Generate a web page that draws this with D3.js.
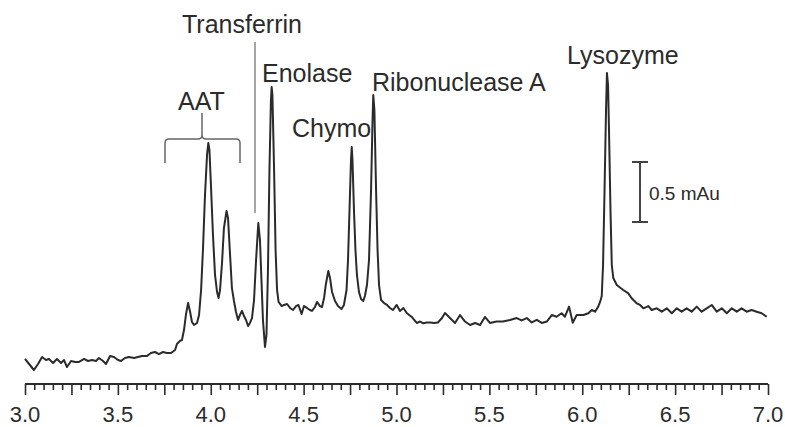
<!DOCTYPE html>
<html>
<head>
<meta charset="utf-8">
<script src="https://cdn.jsdelivr.net/npm/d3@7"></script>
<style>
  html, body { margin: 0; padding: 0; background: #fff; }
  svg { display: block; font-family: "Liberation Sans", Arial, sans-serif; }
</style>
</head>
<body>
<svg id="chart" width="785" height="427"></svg>
<script>
// Migration time (min) of each sample point of the electropherogram
const times = [
  3.000, 3.022, 3.048, 3.070, 3.092, 3.113, 3.129, 3.151, 3.172, 3.194,
  3.210, 3.226, 3.248, 3.269, 3.291, 3.318, 3.339, 3.361, 3.382, 3.398,
  3.420, 3.436, 3.458, 3.479, 3.501, 3.517, 3.538, 3.560, 3.587, 3.608,
  3.630, 3.657, 3.678, 3.700, 3.721, 3.743, 3.764, 3.786, 3.808, 3.818,
  3.834, 3.845, 3.856, 3.867, 3.878, 3.888, 3.899, 3.910, 3.926, 3.937,
  3.948, 3.958, 3.969, 3.980, 3.987, 3.993, 4.001, 4.012, 4.023, 4.034,
  4.042, 4.050, 4.061, 4.071, 4.085, 4.093, 4.104, 4.114, 4.125, 4.136,
  4.147, 4.157, 4.168, 4.179, 4.190, 4.201, 4.211, 4.222, 4.233, 4.244,
  4.256, 4.265, 4.273, 4.281, 4.292, 4.300, 4.308, 4.316, 4.324, 4.328,
  4.332, 4.341, 4.349, 4.357, 4.365, 4.382, 4.394, 4.411, 4.427, 4.443,
  4.459, 4.472, 4.489, 4.502, 4.518, 4.534, 4.545, 4.561, 4.572, 4.588,
  4.599, 4.610, 4.620, 4.633, 4.642, 4.653, 4.669, 4.685, 4.704, 4.717,
  4.731, 4.739, 4.747, 4.755, 4.759, 4.763, 4.771, 4.779, 4.787, 4.798,
  4.809, 4.821, 4.830, 4.841, 4.852, 4.863, 4.871, 4.875, 4.881, 4.890,
  4.898, 4.906, 4.917, 4.933, 4.949, 4.965, 4.981, 5.001, 5.019, 5.037,
  5.055, 5.082, 5.109, 5.127, 5.144, 5.164, 5.180, 5.202, 5.223, 5.245,
  5.261, 5.288, 5.315, 5.342, 5.369, 5.396, 5.423, 5.450, 5.476, 5.503,
  5.539, 5.573, 5.611, 5.647, 5.674, 5.701, 5.728, 5.755, 5.782, 5.809,
  5.836, 5.862, 5.889, 5.907, 5.929, 5.949, 5.970, 6.006, 6.033, 6.051,
  6.069, 6.086, 6.096, 6.105, 6.112, 6.120, 6.128, 6.133, 6.139, 6.144,
  6.152, 6.159, 6.167, 6.186, 6.203, 6.221, 6.248, 6.266, 6.293, 6.311,
  6.329, 6.356, 6.374, 6.401, 6.428, 6.455, 6.482, 6.509, 6.535, 6.562,
  6.589, 6.616, 6.643, 6.670, 6.697, 6.724, 6.751, 6.778, 6.805, 6.832,
  6.858, 6.885, 6.912, 6.939, 6.966, 6.993
];

// UV absorbance (mAu) at each time point
const absorbance = [
  0.092, 0.050, 0.000, 0.050, 0.108, 0.083, 0.092, 0.058, 0.092, 0.058,
  0.083, 0.025, 0.075, 0.067, 0.067, 0.092, 0.075, 0.083, 0.075, 0.100,
  0.075, 0.050, 0.117, 0.108, 0.083, 0.075, 0.100, 0.108, 0.100, 0.108,
  0.117, 0.117, 0.142, 0.150, 0.133, 0.150, 0.142, 0.142, 0.167, 0.217,
  0.242, 0.250, 0.333, 0.467, 0.558, 0.492, 0.400, 0.375, 0.392, 0.458,
  0.667, 1.000, 1.458, 1.792, 1.892, 1.833, 1.542, 1.125, 0.792, 0.650,
  0.600, 0.667, 0.900, 1.183, 1.325, 1.267, 0.958, 0.683, 0.575, 0.483,
  0.417, 0.458, 0.492, 0.450, 0.417, 0.367, 0.392, 0.433, 0.583, 0.917,
  1.225, 1.083, 0.750, 0.417, 0.192, 0.292, 0.833, 1.667, 2.250, 2.358,
  2.292, 1.667, 1.000, 0.667, 0.567, 0.533, 0.542, 0.550, 0.517, 0.500,
  0.533, 0.542, 0.467, 0.533, 0.517, 0.500, 0.492, 0.525, 0.567, 0.533,
  0.525, 0.600, 0.717, 0.825, 0.767, 0.650, 0.575, 0.533, 0.508, 0.542,
  0.667, 0.917, 1.333, 1.750, 1.858, 1.750, 1.333, 1.000, 0.792, 0.650,
  0.592, 0.575, 0.617, 0.708, 0.917, 1.500, 2.083, 2.292, 2.167, 1.500,
  1.000, 0.708, 0.583, 0.558, 0.542, 0.517, 0.500, 0.542, 0.492, 0.517,
  0.475, 0.442, 0.392, 0.404, 0.389, 0.396, 0.396, 0.392, 0.396, 0.433,
  0.475, 0.433, 0.392, 0.458, 0.404, 0.375, 0.392, 0.375, 0.442, 0.392,
  0.404, 0.404, 0.417, 0.433, 0.413, 0.433, 0.396, 0.417, 0.392, 0.404,
  0.458, 0.444, 0.473, 0.444, 0.528, 0.394, 0.458, 0.458, 0.473, 0.500,
  0.486, 0.528, 0.567, 0.617, 0.875, 1.500, 2.167, 2.475, 2.375, 2.000,
  1.333, 0.875, 0.767, 0.708, 0.688, 0.667, 0.639, 0.598, 0.556, 0.542,
  0.514, 0.533, 0.500, 0.514, 0.486, 0.514, 0.473, 0.514, 0.486, 0.514,
  0.486, 0.528, 0.486, 0.514, 0.542, 0.486, 0.514, 0.473, 0.514, 0.486,
  0.514, 0.486, 0.500, 0.486, 0.473, 0.444
];

// Axis tick labels
const tickLabels = ["3.0", "3.5", "4.0", "4.5", "5.0", "5.5", "6.0", "6.5", "7.0"];

// Peak names
const peakNames = ["AAT", "Transferrin", "Enolase", "Chymo", "Ribonuclease A", "Lysozyme"];

// Scale-bar size and unit
const scaleBarValue = 0.5;
const scaleBarUnit = "mAu";

const svg = d3.select("#chart");
const ink = "#2b2b2b";

const x = d3.scaleLinear().domain([3.0, 7.0]).range([25, 768]);
const y = d3.scaleLinear().domain([0, 2.5]).range([370, 70]);

const trace = times.map((t, i) => [t, absorbance[i]]);

// Electropherogram trace
svg.append("path")
  .datum(trace)
  .attr("fill", "none")
  .attr("stroke", ink)
  .attr("stroke-width", 2)
  .attr("stroke-linejoin", "round")
  .attr("d", d3.line().x(d => x(d[0])).y(d => y(d[1])));

// Time axis: minor ticks every 0.05 min, longer ticks every 0.25 min
const axisY = 384;
const minorTicks = d3.range(0, 81).map(i => 3 + i * 0.05);
const axisG = svg.append("g").attr("transform", `translate(0,${axisY})`);
axisG.call(
  d3.axisBottom(x)
    .tickValues(minorTicks)
    .tickSize(6)
    .tickFormat("")
);
axisG.select(".domain").attr("stroke", ink).attr("stroke-width", 2)
  .attr("d", `M${x(3)},0H${x(7)}`);
axisG.selectAll(".tick line")
  .attr("stroke", ink)
  .attr("stroke-width", 1.6)
  .attr("y2", (d, i) => (i % 5 === 0 ? 11 : 6));

// Labelled ticks
const labelTicks = tickLabels.map(Number);
svg.append("g")
  .selectAll("text")
  .data(labelTicks)
  .join("text")
  .attr("x", d => x(d))
  .attr("y", 422)
  .attr("text-anchor", "middle")
  .attr("font-size", 22)
  .attr("fill", ink)
  .text((d, i) => tickLabels[i]);

// Peak labels
const labelPos = {
  "AAT": [178, 110],
  "Transferrin": [182, 33],
  "Enolase": [262, 82],
  "Chymo": [292, 137],
  "Ribonuclease A": [372, 91],
  "Lysozyme": [567, 64]
};
svg.append("g")
  .selectAll("text")
  .data(peakNames)
  .join("text")
  .attr("x", d => labelPos[d][0])
  .attr("y", d => labelPos[d][1])
  .attr("font-size", 25)
  .attr("fill", ink)
  .text(d => d);

// Leader from the Transferrin label down to its peak
svg.append("line")
  .attr("x1", 255).attr("x2", 255)
  .attr("y1", 42).attr("y2", 213)
  .attr("stroke", "#888")
  .attr("stroke-width", 1.5);

// Brace grouping the AAT isoform peaks
svg.append("path")
  .attr("d", "M165,163 V143 Q165,139 169,139 H198 Q202,139 202,135 V113 M202,135 Q202,139 206,139 H236 Q240,139 240,143 V163")
  .attr("fill", "none")
  .attr("stroke", "#666")
  .attr("stroke-width", 1.5);

// Absorbance scale bar
const barX = 640, barBottom = 222;
const barH = y(0) - y(scaleBarValue);
const bar = svg.append("g").attr("stroke", "#444").attr("stroke-width", 2);
bar.append("line").attr("x1", barX).attr("x2", barX).attr("y1", barBottom - barH).attr("y2", barBottom);
bar.append("line").attr("x1", barX - 8).attr("x2", barX + 8).attr("y1", barBottom - barH).attr("y2", barBottom - barH);
bar.append("line").attr("x1", barX - 8).attr("x2", barX + 8).attr("y1", barBottom).attr("y2", barBottom);
svg.append("text")
  .attr("x", barX + 9)
  .attr("y", 200)
  .attr("font-size", 19)
  .attr("fill", ink)
  .text(`${scaleBarValue} ${scaleBarUnit}`);
</script>
</body>
</html>
